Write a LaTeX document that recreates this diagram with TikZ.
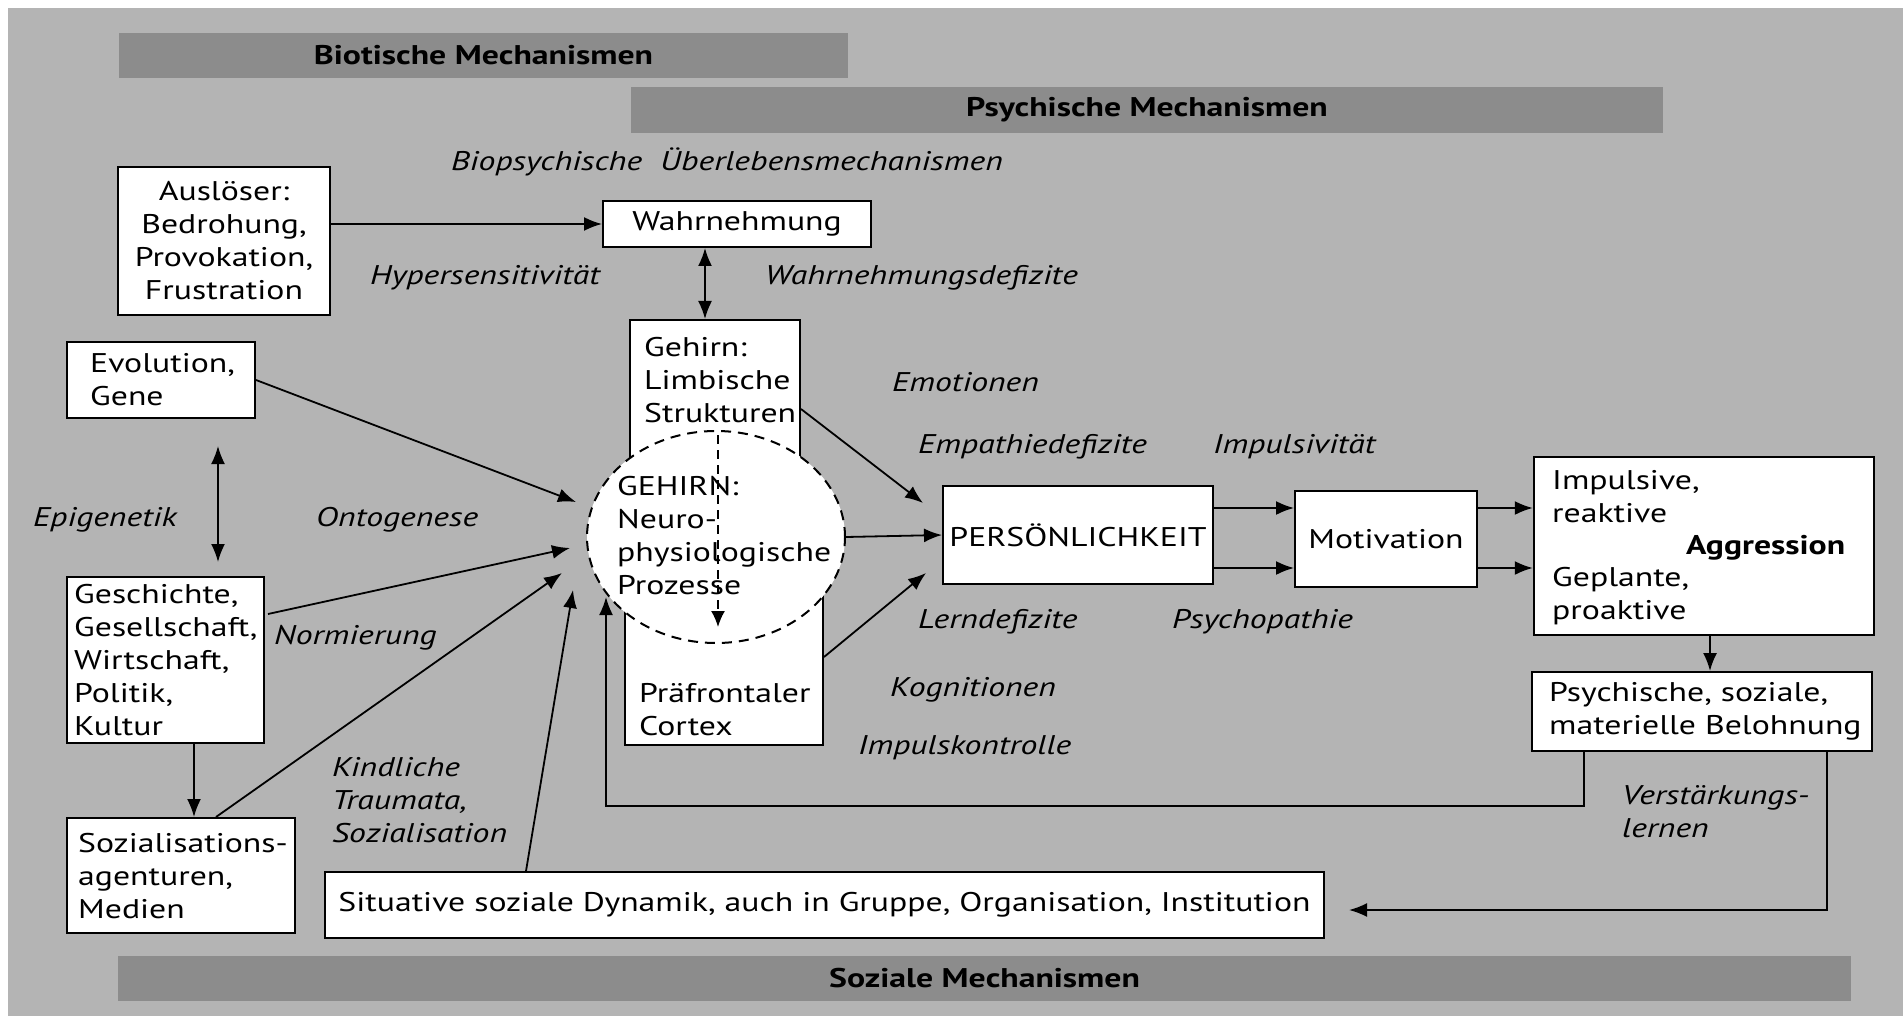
\documentclass[tikz,border=0pt]{standalone}
\usepackage{fontspec}
\setmainfont{PT Sans}[FakeStretch=1.25]
\usetikzlibrary{arrows.meta,calc,shapes.geometric}
\definecolor{bg}{RGB}{180,180,180}
\definecolor{band}{RGB}{140,140,140}
\begin{document}
\begin{tikzpicture}[x=1pt,y=-1pt,
  every node/.style={font=\fontsize{27}{33}\selectfont, inner sep=0pt},
  box/.style={draw=black, line width=2pt, fill=white, rectangle},
  lbl/.style={anchor=west, font=\fontsize{27}{33}\selectfont\itshape, align=left},
  txt/.style={anchor=west, align=left},
  bandbox/.style={fill=band, rectangle, font=\fontsize{27}{33}\selectfont\bfseries},
  arr/.style={line width=1.8pt, -{Latex[length=18pt,width=14pt]}},
  darr/.style={line width=1.8pt, {Latex[length=18pt,width=14pt]}-{Latex[length=18pt,width=14pt]}},
  dasharr/.style={line width=1.8pt, dash pattern=on 9pt off 6pt, -{Latex[length=16pt,width=14pt]}},
]
\path[use as bounding box] (0,0) rectangle (1903,1016);
\fill[white] (0,0) rectangle (1903,1016);
\fill[bg] (8,8) rectangle (1903,1016);

% bands
\node[bandbox, minimum width=729, minimum height=45] (bio) at (483.5,55.5) {Biotische Mechanismen};
\node[bandbox, minimum width=1032, minimum height=46] (psy) at (1147,110) {Psychische Mechanismen};
\node[bandbox, minimum width=1733, minimum height=45] (sozband) at (984.5,978.5) {Soziale Mechanismen};

% boxes
\node[box, minimum width=212, minimum height=148, align=center] (ausl) at (224,241) {Auslöser:\\Bedrohung,\\Provokation,\\Frustration};
\node[box, minimum width=268, minimum height=46] (wahr) at (737,224) {Wahrnehmung};
\node[box, minimum width=188, minimum height=76] (evo) at (161,380) {};
\node[txt] (evot) at (90,380) {Evolution,\\Gene};
\node[box, minimum width=197, minimum height=166] (gesch) at (165.5,660) {};
\node[txt] (gescht) at (74,660) {Geschichte,\\Gesellschaft,\\Wirtschaft,\\Politik,\\Kultur};
\node[box, minimum width=228, minimum height=115] (soz) at (181,875.5) {};
\node[txt] (sozt) at (78,876) {Sozialisations-\\agenturen,\\Medien};
\node[box, minimum width=170, minimum height=217] (limb) at (715,428.5) {};
\node[txt] (limbt) at (644,380) {Gehirn:\\Limbische\\Strukturen};
\node[box, minimum width=198, minimum height=208] (pref) at (724,641) {};
\node[txt] (preft) at (639,710) {Präfrontaler\\Cortex};
\node[draw=black, fill=white, line width=2pt, dash pattern=on 10pt off 7pt, ellipse, minimum width=258, minimum height=212] (ell) at (716,537) {};
\node[txt] (ellt) at (617,536) {GEHIRN:\\Neuro-\\physiologische\\Prozesse};
\node[box, minimum width=270, minimum height=98] (pers) at (1078,535) {PERSÖNLICHKEIT};
\node[box, minimum width=182, minimum height=96] (mot) at (1386,539) {Motivation};
\node[box, line width=2.5pt, minimum width=340, minimum height=178] (agg) at (1704,546) {};
\node[txt] (agg1) at (1552,497) {Impulsive,\\reaktive};
\node[txt, font=\fontsize{27}{33}\selectfont\bfseries] (agg2) at (1686,548) {Aggression};
\node[txt] (agg3) at (1552,596) {Geplante,\\proaktive};
\node[box, minimum width=340, minimum height=79] (bel) at (1702,711.5) {};
\node[txt] (belt) at (1549,711.5) {Psychische, soziale,\\materielle Belohnung};
\node[box, minimum width=999, minimum height=66] (sit) at (824.5,905) {Situative soziale Dynamik, auch in Gruppe, Organisation, Institution};

% labels
\node[lbl] (l1) at (451,162) {Biopsychische\ \ Überlebensmechanismen};
\node[lbl] (l2) at (370,278) {Hypersensitivität};
\node[lbl] (l3) at (765,278) {Wahrnehmungsdefizite};
\node[lbl] (l4) at (892,382) {Emotionen};
\node[lbl] (l5) at (918,447) {Empathiedefizite};
\node[lbl] (l6) at (1213,447) {Impulsivität};
\node[lbl] (l7) at (33,520) {Epigenetik};
\node[lbl] (l8) at (316,520) {Ontogenese};
\node[lbl] (l9) at (274,638) {Normierung};
\node[lbl] (l10) at (918,622) {Lerndefizite};
\node[lbl] (l11) at (1172,622) {Psychopathie};
\node[lbl] (l12) at (890,690) {Kognitionen};
\node[lbl] (l13) at (858,748) {Impulskontrolle};
\node[lbl] (l14) at (332,800) {Kindliche\\Traumata,\\Sozialisation};
\node[lbl] (l15) at (1622,812) {Verstärkungs-\\lernen};

% tip coordinates
\coordinate (t1) at (576,502);
\coordinate (t2) at (570,548);
\coordinate (t3) at (562,573);
\coordinate (t4) at (573,590);
\coordinate (fbtip) at (606,597);

% connectors
\draw[arr] (ausl.east |- wahr.west) -- (wahr.west);
\draw[darr] (wahr.south -| 705,0) -- (limb.north -| 705,0);
\draw[darr] ($(evo.south west)+(152,27)$) -- ($(gesch.north west)+(152,-14)$);
\draw[arr] (evo.east) -- (t1);
\draw[arr] ($(gesch.north east)+(3,38)$) -- (t2);
\draw[arr] (gesch.south -| 194,0) -- (soz.north -| 194,0);
\draw[arr] ($(soz.north west)+(150,0)$) -- (t3);
\draw[arr] ($(sit.north west)+(202,0)$) -- (t4);
\draw[arr] ($(bel.south west)+(53,0)$) -- ++(0,54) -| (fbtip);
\draw[arr] ($(bel.south east)+(-46,0)$) |- ($(sit.east)+(24,5)$);
\draw[dasharr] ($(ell.north)+(2,5)$) -- ($(ell.north)+(2,197)$);
\draw[arr] ($(limb.north east)+(0,90)$) -- ($(pers.north west)+(-19,18)$);
\draw[arr] (ell.east) -- (pers.west);
\draw[arr] ($(pref.north east)+(0,121)$) -- ($(pers.south west)+(-16,-12)$);
\draw[arr] (pers.east |- 0,508) -- (mot.west |- 0,508);
\draw[arr] (pers.east |- 0,568) -- (mot.west |- 0,568);
\draw[arr] (mot.east |- 0,508) -- (agg.west |- 0,508);
\draw[arr] (mot.east |- 0,568) -- (agg.west |- 0,568);
\draw[arr] (agg.south -| 1710,0) -- (bel.north -| 1710,0);
\end{tikzpicture}
\end{document}
